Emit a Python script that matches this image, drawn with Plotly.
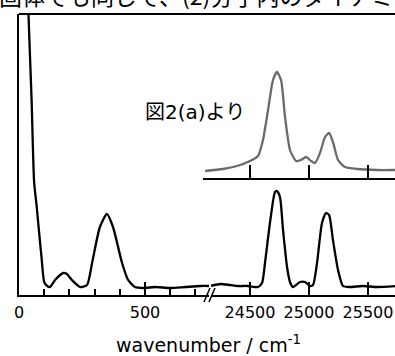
import plotly.graph_objects as go

# ---- data ----
low_wn = [30, 38, 50, 60, 70, 80, 90, 100, 112, 123, 143, 163, 175, 190, 210, 242, 270, 290, 321, 349,
          373, 409, 433, 460, 492, 540, 600, 660, 720, 760]
low_int = [340, 270, 187, 105, 81, 54, 28, 5, 1, 0, 7, 12, 14, 13, 7, 0, 2, 24, 60, 73,
           60, 24, 7, 0, -1, 0, -1, 0, 1, 1]

high_wn = [24160, 24250, 24330, 24400, 24480, 24540, 24568, 24602, 24627, 24669, 24712, 24729, 24754,
           24780, 24814, 24839, 24864, 24924, 24966, 25008, 25034, 25068, 25110, 25144, 25170,
           25203, 25246, 25288, 25347, 25450, 25576, 25740]
high_int = [1, 3, 2, 1, 1, 0, 0, 4, 24, 64, 95, 96, 90,
            57, 20, 5, 0, 5, 5, 1, 2, 24, 64, 74, 72,
            47, 17, 1, 0, 1, 0, 1]

inset_wn = [24120, 24271, 24390, 24500, 24568, 24610, 24653, 24695, 24729, 24763, 24797, 24839,
            24890, 24932, 24975, 25017, 25051, 25093, 25136, 25170, 25203, 25246, 25305, 25407,
            25576, 25740]
inset_int = [0, 2, 5, 10, 15, 31, 61, 91, 99, 91, 54, 21,
             10, 11, 14, 10, 8, 18, 34, 38, 29, 11, 4, 2,
             1, 1]

low_ticks = [0, 500]
low_minor = [100, 200, 300, 400, 600, 700]
high_ticks = [24500, 25000, 25500]
high_ticklabels = ["24500", "25000", "25500"]

# ---- layout geometry (pixels) ----
W, H = 395, 356
L, R, T, B = 19, 0, 14, 61
PW, PH = W - L - R, H - T - B


def px_x(x):
    return (x - L) / PW


def px_y(y):
    return (H - B - y) / PH


fig = go.Figure()

fig.add_trace(go.Scatter(x=low_wn, y=low_int, mode="lines", xaxis="x", yaxis="y",
                         line=dict(color="black", width=2.3, shape="spline", smoothing=0.6),
                         showlegend=False, hoverinfo="skip"))
fig.add_trace(go.Scatter(x=high_wn, y=high_int, mode="lines", xaxis="x2", yaxis="y2",
                         line=dict(color="black", width=2.3, shape="spline", smoothing=0.6),
                         showlegend=False, hoverinfo="skip"))
fig.add_trace(go.Scatter(x=inset_wn, y=inset_int, mode="lines", xaxis="x3", yaxis="y3",
                         line=dict(color="#6a6a6a", width=2.3, shape="spline", smoothing=0.6),
                         showlegend=False, hoverinfo="skip"))

tickfont = dict(family="DejaVu Sans", size=16, color="black")
left_end = 209
right_start = 211

fig.update_layout(
    width=W, height=H,
    margin=dict(l=L, r=R, t=T, b=B, pad=0),
    paper_bgcolor="white", plot_bgcolor="white",
    showlegend=False,
    xaxis=dict(domain=[0, px_x(left_end)], range=[0, (left_end - L) / 0.252],
               tickvals=low_ticks, ticktext=[str(v) for v in low_ticks],
               ticks="inside", ticklen=13, tickwidth=2, tickcolor="black",
               minor=dict(tickvals=low_minor, ticks="inside", ticklen=6, tickwidth=2, tickcolor="black"),
               showline=True, linecolor="black", linewidth=2, showgrid=False, zeroline=False,
               tickfont=tickfont, ticklabelstandoff=2, anchor="y"),
    yaxis=dict(domain=[0, 1], range=[-8, 273], showline=True, linecolor="black", linewidth=2,
               showticklabels=False, ticks="", showgrid=False, zeroline=False, anchor="x"),
    xaxis2=dict(domain=[px_x(right_start), 1],
                range=[24500 + (right_start - 250) / 0.118, 24500 + (W - 250) / 0.118],
                tickvals=high_ticks, ticktext=high_ticklabels,
                ticks="inside", ticklen=13, tickwidth=2, tickcolor="black",
                showline=True, linecolor="black", linewidth=2, showgrid=False, zeroline=False,
                tickfont=tickfont, ticklabelstandoff=2, anchor="y2"),
    yaxis2=dict(domain=[0, 1], range=[-8, 273], visible=False, anchor="x2"),
    xaxis3=dict(domain=[px_x(203), 1],
                range=[24500 + (203 - 250) / 0.118, 24500 + (W - 250) / 0.118],
                tickvals=high_ticks, showticklabels=False,
                ticks="inside", ticklen=13, tickwidth=2, tickcolor="black",
                showline=True, linecolor="black", linewidth=2, showgrid=False, zeroline=False,
                anchor="y3"),
    yaxis3=dict(domain=[px_y(178), px_y(60)], range=[-7, 111], visible=False, anchor="x3"),
)

# frame top line
fig.add_shape(type="line", xref="paper", yref="paper", x0=0, x1=1, y0=1, y1=1,
              line=dict(color="black", width=2))
# axis break marks //
for dx in (0, 5):
    fig.add_shape(type="line", xref="paper", yref="paper",
                  x0=px_x(204 + dx), y0=px_y(302), x1=px_x(210 + dx), y1=px_y(288),
                  line=dict(color="black", width=1.5))

# axis title
fig.add_annotation(xref="paper", yref="paper", x=px_x(208), y=px_y(344),
                   text="wavenumber / cm<sup>-1</sup>", showarrow=False,
                   xanchor="center", yanchor="middle",
                   font=dict(family="DejaVu Sans", size=19, color="black"))
# inset label
fig.add_annotation(xref="paper", yref="paper", x=px_x(195), y=px_y(112),
                   text="図2(a)より", showarrow=False, xanchor="center", yanchor="middle",
                   font=dict(family="DejaVu Sans, Noto Sans CJK JP", size=20, color="black"))
# cropped text at the top
fig.add_annotation(xref="paper", yref="paper", x=px_x(-3), y=px_y(14),
                   text="固体でも同じで、(2)分子内のダイナミクス", showarrow=False,
                   xanchor="left", yanchor="bottom",
                   font=dict(family="Noto Sans CJK JP", size=23, color="black"))

fig.write_html("out.html", config={"displayModeBar": False},
               post_script="document.body.style.margin='0';")
